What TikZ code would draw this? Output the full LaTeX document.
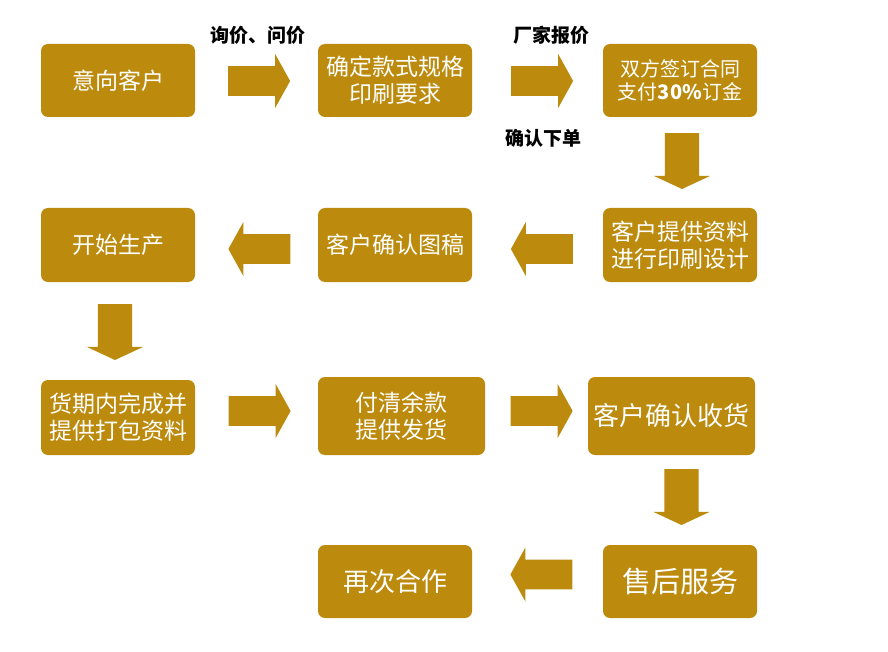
\documentclass[tikz,border=0pt]{standalone}
\usepackage{fontspec}
\newfontfamily\cjk{Noto Sans CJK SC}
\usetikzlibrary{shapes.arrows}
\definecolor{gold}{RGB}{188,139,13}

\begin{document}
\begin{tikzpicture}[x=1pt,y=-1pt,
  box/.style={fill=gold,rounded corners=7pt,text=white,align=center,inner sep=0pt,
    minimum width=154pt,minimum height=73pt,font=\cjk\fontsize{23}{27}\selectfont},
  blk/.style={single arrow,fill=gold,draw=none,inner xsep=0pt,inner ysep=14.5pt,
    minimum height=62pt,minimum width=54pt,single arrow head extend=12pt,
    single arrow tip angle=122},
  dblk/.style={blk,rotate=-90,inner ysep=17pt,minimum height=56pt,minimum width=56pt,
    single arrow head extend=11pt,single arrow tip angle=130},
  lbl/.style={font=\cjk\bfseries\fontsize{19}{21}\selectfont}]
\useasboundingbox (0,0) rectangle (888,652);
% boxes
\node[box] (kehu) at (118,80.5) {意向客户};
\node[box] (guige) at (395,80.5) {确定款式规格\\印刷要求};
\node[box,font=\cjk\fontsize{20}{23}\selectfont] (hetong) at (680,80.5) {双方签订合同\\支付{\bfseries 30\%}订金};
\node[box,minimum height=74pt] (sheji) at (680,245) {客户提供资料\\进行印刷设计};
\node[box,minimum height=74pt] (tugao) at (395,245) {客户确认图稿};
\node[box,minimum height=74pt] (shengchan) at (118,245) {开始生产};
\node[box,minimum height=75pt] (baozhuang) at (118,417.5) {货期内完成并\\提供打包资料};
\node[box,minimum width=167pt,minimum height=78pt] (fahuo) at (401.5,416) {付清余款\\提供发货};
\node[box,minimum width=167pt,minimum height=78pt,font=\cjk\fontsize{26}{30}\selectfont] (shouhuo) at (671.5,416) {客户确认收货};
\node[box,font=\cjk\fontsize{29}{33}\selectfont] (shouhou) at (680,581.5) {售后服务};
\node[box,font=\cjk\fontsize{26}{30}\selectfont] (hezuo) at (395,581.5) {再次合作};
% arrows
\node[blk] (a1) at (255,81) {};
\node[blk] (a2) at (538,81) {};
\node[dblk] (a3) at (682,157) {};
\node[blk,rotate=180] (a4) at (546,249) {};
\node[blk,rotate=180] (a5) at (263.5,249) {};
\node[dblk] (a6) at (115,328) {};
\node[blk] (a7) at (255.5,411) {};
\node[blk] (a8) at (537.5,411) {};
\node[dblk] (a9) at (681.5,493) {};
\node[blk,rotate=180] (a10) at (545.5,574.5) {};
% labels
\node[lbl] (xunjia) at (258,35) {询价、问价};
\node[lbl] (baojia) at (551,35) {厂家报价};
\node[lbl] (xiadan) at (543,138) {确认下单};
\end{tikzpicture}
\end{document}
